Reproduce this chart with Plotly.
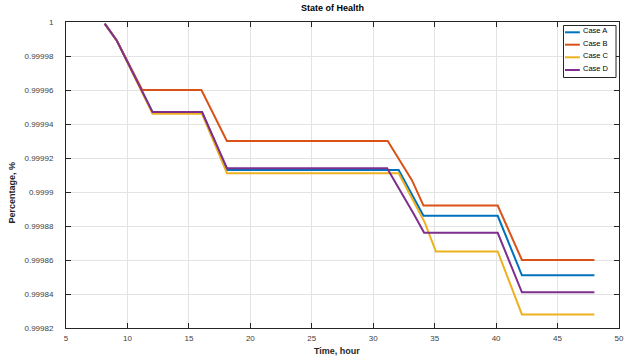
import plotly.graph_objects as go

# ---- data ----
time_a = [8.15, 9.14, 12.04, 16.07, 18.1, 32.07, 34.09, 40.13, 42.1, 48]
soh_a = [0.999999, 0.999989, 0.999947, 0.999947, 0.999913, 0.999913, 0.999886, 0.999886, 0.999851, 0.999851]

time_b = [8.15, 9.14, 11.2, 16.02, 18.09, 31.18, 33.15, 34.09, 40.13, 42.1, 48]
soh_b = [0.999999, 0.999989, 0.99996, 0.99996, 0.99993, 0.99993, 0.999907, 0.999892, 0.999892, 0.99986, 0.99986]

time_c = [8.15, 9.14, 12.04, 16.07, 18.1, 32.07, 34.2, 35.1, 40.13, 42.1, 48]
soh_c = [0.999999, 0.999989, 0.999946, 0.999946, 0.999911, 0.999911, 0.999882, 0.999865, 0.999865, 0.999828, 0.999828]

time_d = [8.15, 9.14, 12.04, 16.07, 18.1, 31.13, 33.3, 34.14, 40.13, 42.1, 48]
soh_d = [0.999999, 0.999989, 0.999947, 0.999947, 0.999914, 0.999914, 0.999887, 0.999876, 0.999876, 0.999841, 0.999841]

series_names = ["Case A", "Case B", "Case C", "Case D"]
series_colors = ["#0072BD", "#D95319", "#EDB120", "#7E2F8E"]

y_tick_vals = [0.99982, 0.99984, 0.99986, 0.99988, 0.9999, 0.99992, 0.99994, 0.99996, 0.99998, 1.0]
y_tick_text = ["0.99982", "0.99984", "0.99986", "0.99988", "0.9999", "0.99992", "0.99994", "0.99996", "0.99998", "1"]
x_tick_vals = [5, 10, 15, 20, 25, 30, 35, 40, 45, 50]

FONT = "Liberation Sans, Arial, sans-serif"
AX = "#262626"

W, H = 624, 363
ML, MR, MT, MB = 66, 0, 22, 35
PW, PH = W - ML - MR, H - MT - MB


def px_x(p):
    return (p - ML) / PW


def px_y(p):
    return (H - MB - p) / PH


fig = go.Figure()
for t, s, name, col in zip([time_a, time_b, time_c, time_d],
                           [soh_a, soh_b, soh_c, soh_d],
                           series_names, series_colors):
    fig.add_trace(go.Scatter(x=t, y=s, mode="lines", name=name,
                             line=dict(color=col, width=2), showlegend=False))

# compact MATLAB-style legend box
shapes = [dict(type="rect", xref="paper", yref="paper",
               x0=px_x(568), x1=px_x(621), y0=px_y(77.5), y1=px_y(25.5),
               line=dict(color=AX, width=1), fillcolor="white", layer="above")]
annotations = []
entry_y = [32.3, 44.7, 57.3, 70.0]
for name, col, ey in zip(series_names, series_colors, entry_y):
    shapes.append(dict(type="line", xref="paper", yref="paper",
                       x0=px_x(569.5), x1=px_x(584.5), y0=px_y(ey), y1=px_y(ey),
                       line=dict(color=col, width=2), layer="above"))
    annotations.append(dict(text=name, xref="paper", yref="paper",
                            x=px_x(585.5), y=px_y(ey - 1.5), xanchor="left", yanchor="middle",
                            showarrow=False, font=dict(size=7.5, color="#000000")))

annotations += [
    dict(text="<b>State of Health</b>", xref="paper", yref="paper",
         x=px_x(335), y=px_y(8), xanchor="center", yanchor="middle",
         showarrow=False, font=dict(size=9, color="#000000")),
    dict(text="<b>Time, hour</b>", xref="paper", yref="paper",
         x=px_x(339), y=px_y(351), xanchor="center", yanchor="middle",
         showarrow=False, font=dict(size=9, color="#262626")),
    dict(text="<b>Percentage, %</b>", xref="paper", yref="paper",
         x=px_x(12), y=px_y(192), xanchor="center", yanchor="middle",
         textangle=-90, showarrow=False, font=dict(size=9, color="#262626")),
]

fig.update_layout(
    width=W, height=H,
    margin=dict(l=ML, r=MR, t=MT, b=MB),
    paper_bgcolor="white", plot_bgcolor="white",
    font=dict(family=FONT, size=8, color="#404040"),
    showlegend=False,
    shapes=shapes,
    annotations=annotations,
)

fig.update_xaxes(range=[5, 50], tickvals=x_tick_vals,
                 showline=True, linecolor=AX, linewidth=1, mirror="ticks",
                 ticks="inside", ticklen=5, tickcolor=AX,
                 showgrid=True, gridcolor="#e3e3e3", gridwidth=1,
                 zeroline=False, ticklabelstandoff=2, ticklabeloverflow="allow",
                 tickfont=dict(size=8, color="#404040"))
fig.update_yaxes(range=[0.99982, 1.0], tickvals=y_tick_vals, ticktext=y_tick_text,
                 showline=True, linecolor=AX, linewidth=1, mirror="ticks",
                 ticks="inside", ticklen=5, tickcolor=AX,
                 showgrid=True, gridcolor="#e3e3e3", gridwidth=1,
                 zeroline=False, ticklabelstandoff=10,
                 tickfont=dict(size=8, color="#404040"))

fig.write_html("out.html")
